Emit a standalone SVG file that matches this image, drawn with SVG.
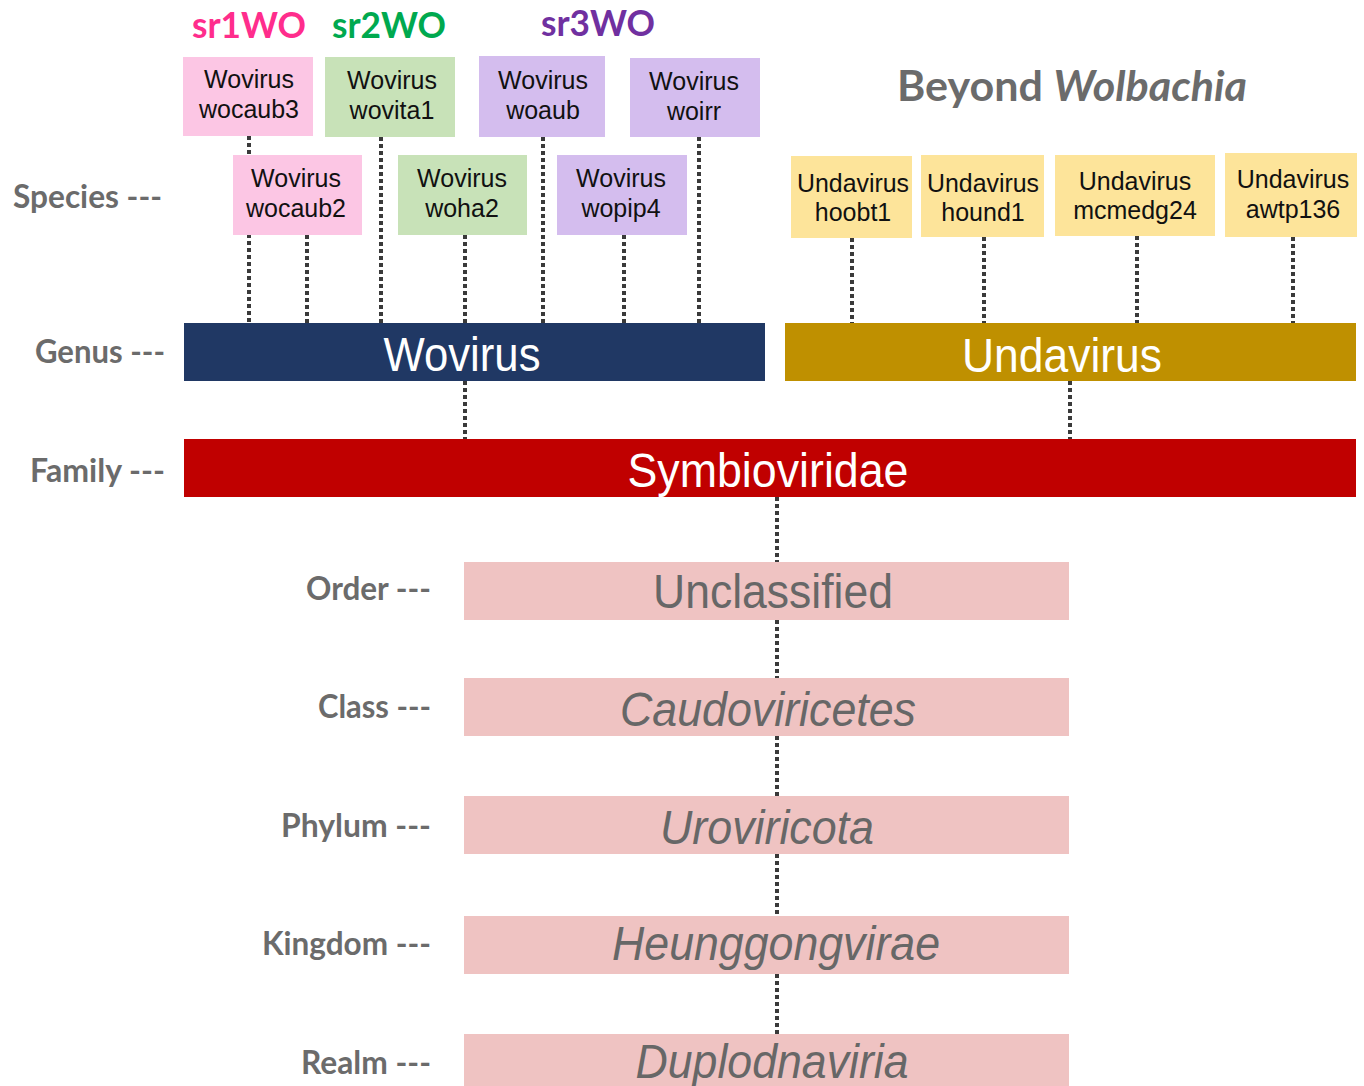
<svg xmlns="http://www.w3.org/2000/svg" width="1364" height="1086" viewBox="0 0 1364 1086">
<style>
.sp{font-family:"Liberation Sans",Arial,sans-serif;font-size:25px;fill:#111;text-anchor:middle}
.lbl{font-family:Lato,"Open Sans",sans-serif;font-weight:bold;font-size:32px;fill:#6b6b6b;text-anchor:end}
.sr{font-family:Lato,"Open Sans",sans-serif;font-weight:bold;font-size:36px;text-anchor:middle}
.big{font-family:"Liberation Sans",Arial,sans-serif;font-size:49px;text-anchor:middle}
.wt{fill:#ffffff}
.gt{fill:#676767}
.it{font-style:italic}
.dot{stroke:#3a3a3a;stroke-width:4;stroke-dasharray:4 3;fill:none}
.pk{fill:#fcc6e4}.gr{fill:#c8e2b8}.pu{fill:#d4bdee}.ye{fill:#fde49a}.rk{fill:#efc3c2}
</style>
<rect width="1364" height="1086" fill="#ffffff"/>
<g id="connectors">
<line class="dot" x1="249" y1="136" x2="249" y2="323"/>
<line class="dot" x1="307" y1="235" x2="307" y2="323"/>
<line class="dot" x1="381" y1="137" x2="381" y2="323"/>
<line class="dot" x1="465" y1="235" x2="465" y2="323"/>
<line class="dot" x1="543" y1="137" x2="543" y2="323"/>
<line class="dot" x1="624" y1="235" x2="624" y2="323"/>
<line class="dot" x1="699" y1="137" x2="699" y2="323"/>
<line class="dot" x1="852" y1="238" x2="852" y2="323"/>
<line class="dot" x1="984" y1="237" x2="984" y2="323"/>
<line class="dot" x1="1137" y1="236" x2="1137" y2="323"/>
<line class="dot" x1="1293" y1="237" x2="1293" y2="323"/>
<line class="dot" x1="465" y1="381" x2="465" y2="439"/>
<line class="dot" x1="1070" y1="381" x2="1070" y2="439"/>
<line class="dot" x1="777" y1="497" x2="777" y2="562"/>
<line class="dot" x1="777" y1="620" x2="777" y2="678"/>
<line class="dot" x1="777" y1="736" x2="777" y2="796"/>
<line class="dot" x1="777" y1="854" x2="777" y2="916"/>
<line class="dot" x1="777" y1="974" x2="777" y2="1034"/>
</g>
<g id="headers">
<text class="sr" x="249" y="38" fill="#ff2d8c" textLength="114" lengthAdjust="spacingAndGlyphs">sr1WO</text>
<text class="sr" x="389" y="38" fill="#00a94f" textLength="114" lengthAdjust="spacingAndGlyphs">sr2WO</text>
<text class="sr" x="598" y="36" fill="#7030a0" textLength="114" lengthAdjust="spacingAndGlyphs">sr3WO</text>
<text x="897" y="101" font-family="Lato,'Open Sans',sans-serif" font-weight="bold" font-size="42" fill="#6b6b6b" textLength="350" lengthAdjust="spacingAndGlyphs">Beyond <tspan font-style="italic">Wolbachia</tspan></text>
</g>
<g id="rank-labels">
<text class="lbl" x="162" y="208" textLength="149" lengthAdjust="spacingAndGlyphs">Species ---</text>
<text class="lbl" x="165" y="363" textLength="130" lengthAdjust="spacingAndGlyphs">Genus ---</text>
<text class="lbl" x="165" y="482" textLength="135" lengthAdjust="spacingAndGlyphs">Family ---</text>
<text class="lbl" x="431" y="600" textLength="125" lengthAdjust="spacingAndGlyphs">Order ---</text>
<text class="lbl" x="431" y="718" textLength="113" lengthAdjust="spacingAndGlyphs">Class ---</text>
<text class="lbl" x="431" y="837" textLength="150" lengthAdjust="spacingAndGlyphs">Phylum ---</text>
<text class="lbl" x="431" y="955" textLength="169" lengthAdjust="spacingAndGlyphs">Kingdom ---</text>
<text class="lbl" x="431" y="1074" textLength="130" lengthAdjust="spacingAndGlyphs">Realm ---</text>
</g>
<g id="wocaub3"><rect class="pk" x="183" y="57" width="130" height="79"/><text class="sp" x="249" y="88">Wovirus</text><text class="sp" x="249" y="118">wocaub3</text></g>
<g id="wovita1"><rect class="gr" x="325" y="57" width="130" height="80"/><text class="sp" x="392" y="89">Wovirus</text><text class="sp" x="392" y="119">wovita1</text></g>
<g id="woaub"><rect class="pu" x="479" y="56" width="126" height="81"/><text class="sp" x="543" y="89">Wovirus</text><text class="sp" x="543" y="119">woaub</text></g>
<g id="woirr"><rect class="pu" x="630" y="58" width="130" height="79"/><text class="sp" x="694" y="90">Wovirus</text><text class="sp" x="694" y="120">woirr</text></g>
<g id="wocaub2"><rect class="pk" x="233" y="155" width="129" height="80"/><text class="sp" x="296" y="187">Wovirus</text><text class="sp" x="296" y="217">wocaub2</text></g>
<g id="woha2"><rect class="gr" x="398" y="155" width="129" height="80"/><text class="sp" x="462" y="187">Wovirus</text><text class="sp" x="462" y="217">woha2</text></g>
<g id="wopip4"><rect class="pu" x="557" y="155" width="130" height="80"/><text class="sp" x="621" y="187">Wovirus</text><text class="sp" x="621" y="217">wopip4</text></g>
<g id="hoobt1"><rect class="ye" x="791" y="156" width="121" height="82"/><text class="sp" x="853" y="192" textLength="112" lengthAdjust="spacingAndGlyphs">Undavirus</text><text class="sp" x="853" y="221">hoobt1</text></g>
<g id="hound1"><rect class="ye" x="921" y="155" width="123" height="82"/><text class="sp" x="983" y="192" textLength="112" lengthAdjust="spacingAndGlyphs">Undavirus</text><text class="sp" x="983" y="221">hound1</text></g>
<g id="mcmedg24"><rect class="ye" x="1055" y="155" width="160" height="81"/><text class="sp" x="1135" y="190">Undavirus</text><text class="sp" x="1135" y="219">mcmedg24</text></g>
<g id="awtp136"><rect class="ye" x="1225" y="153" width="132" height="84"/><text class="sp" x="1293" y="188">Undavirus</text><text class="sp" x="1293" y="218">awtp136</text></g>
<g id="genus-wovirus"><rect x="184" y="323" width="581" height="58" fill="#203864"/><text class="big wt" x="462" y="371" textLength="157" lengthAdjust="spacingAndGlyphs">Wovirus</text></g>
<g id="genus-undavirus"><rect x="785" y="323" width="571" height="58" fill="#bf9000"/><text class="big wt" x="1062" y="372" textLength="200" lengthAdjust="spacingAndGlyphs">Undavirus</text></g>
<g id="family"><rect x="184" y="439" width="1172" height="58" fill="#c00000"/><text class="big wt" x="768" y="487" textLength="281" lengthAdjust="spacingAndGlyphs">Symbioviridae</text></g>
<g id="order"><rect class="rk" x="464" y="562" width="605" height="58"/><text class="big gt" x="773" y="608" textLength="240" lengthAdjust="spacingAndGlyphs">Unclassified</text></g>
<g id="class"><rect class="rk" x="464" y="678" width="605" height="58"/><text class="big gt it" x="768" y="726" textLength="296" lengthAdjust="spacingAndGlyphs">Caudoviricetes</text></g>
<g id="phylum"><rect class="rk" x="464" y="796" width="605" height="58"/><text class="big gt it" x="767" y="844" textLength="214" lengthAdjust="spacingAndGlyphs">Uroviricota</text></g>
<g id="kingdom"><rect class="rk" x="464" y="916" width="605" height="58"/><text class="big gt it" x="776" y="960" textLength="328" lengthAdjust="spacingAndGlyphs">Heunggongvirae</text></g>
<g id="realm"><rect class="rk" x="464" y="1034" width="605" height="60"/><text class="big gt it" x="772" y="1078" textLength="273" lengthAdjust="spacingAndGlyphs">Duplodnaviria</text></g>
</svg>
